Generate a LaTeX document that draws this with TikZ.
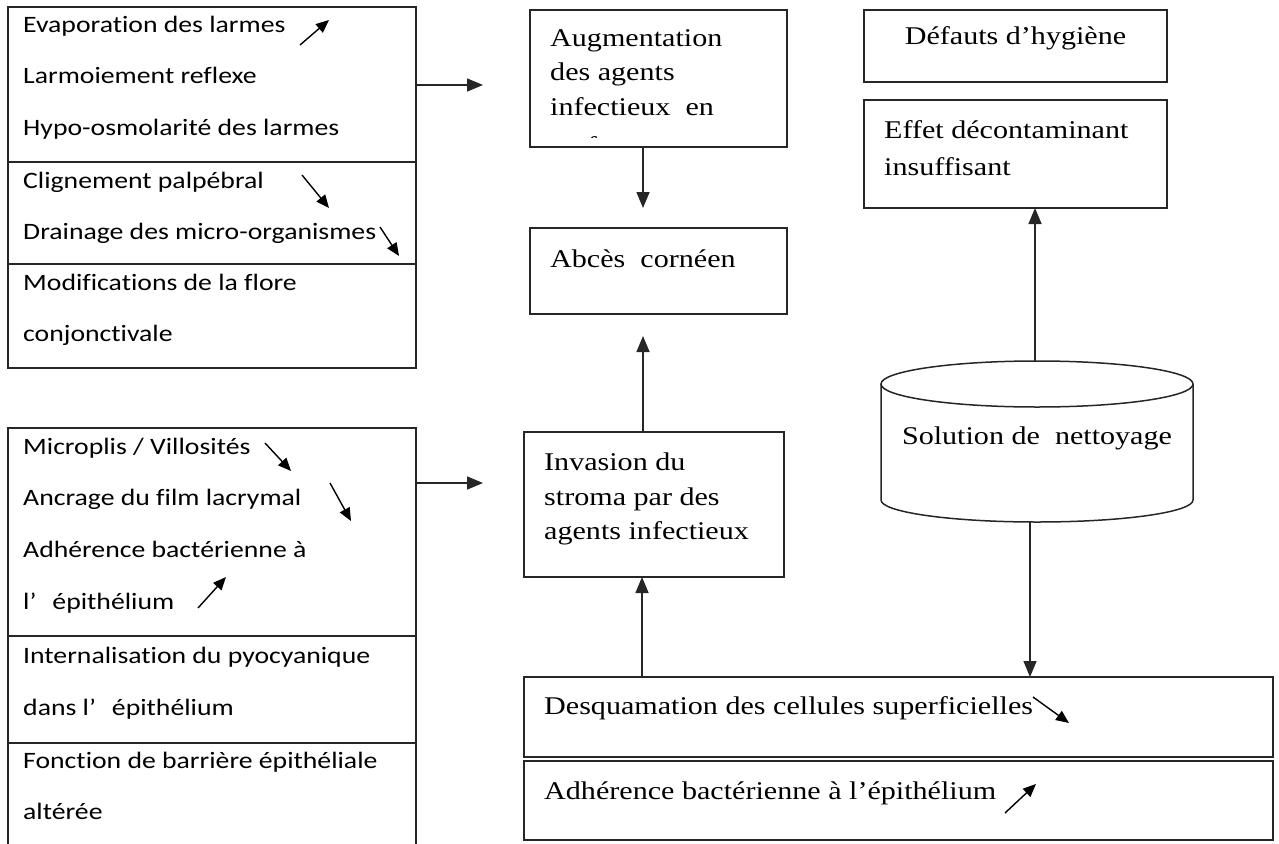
\documentclass[tikz,border=0pt]{standalone}
\usepackage{fontspec}
\usetikzlibrary{arrows.meta,calc}
\newfontfamily\calib[FakeStretch=1.18,Ligatures=NoCommon]{Carlito}
\newfontfamily\tms[FakeStretch=1.18,Ligatures=NoCommon]{Liberation Serif}

\begin{document}
\begin{tikzpicture}[x=1pt,y=-1pt,
  box/.style={draw=black!85, line width=1.5pt, inner sep=0pt, outer sep=0pt, anchor=north west},
  rule/.style={draw=black!85, line width=1.5pt},
  lt/.style={anchor=base west, inner sep=0pt, font=\calib\fontsize{23.5}{28}\selectfont},
  st/.style={anchor=base west, inner sep=0pt, font=\tms\fontsize{25.5}{30}\selectfont},
  flow/.style={draw=black!85, line width=1.5pt, -{Triangle[length=16pt,width=13pt]}},
  trend/.style={draw=black, line width=1.4pt, -{Triangle[length=13pt,width=11pt]}},
]
\useasboundingbox (0,0) rectangle (1279,843);

% ---------- left column: tear film and epithelium ----------
\node[box, minimum width=408, minimum height=361] (tl) at (8,7) {};
\draw[rule] (8,162) -- (416,162);
\draw[rule] (8,264) -- (416,264);
\node[lt] (t1) at (23,33)  {Evaporation des larmes};
\node[lt] (t2) at (23,84)  {Larmoiement reflexe};
\node[lt] (t3) at (23,135) {Hypo-osmolarité des larmes};
\node[lt] (t4) at (23,188) {Clignement palpébral};
\node[lt] (t5) at (23,239) {Drainage des micro-organismes};
\node[lt] (t6) at (23,290) {Modifications de la flore};
\node[lt] (t7) at (23,341) {conjonctivale};
\draw[trend] (300,45) -- (329,20);
\draw[trend] (302,175) -- (329,208);
\draw[trend] (380,227) -- (399,256);

\node[box, minimum width=408, minimum height=420] (bl) at (8,428) {};
\draw[rule] (8,636) -- (416,636);
\draw[rule] (8,743) -- (416,743);
\node[lt] (b1) at (23,454) {Microplis / Villosités};
\node[lt] (b2) at (23,505) {Ancrage du film lacrymal};
\node[lt] (b3) at (23,557) {Adhérence bactérienne à};
\node[lt] (b4) at (23,609) {l’\hspace{16pt}épithélium};
\node[lt] (b5) at (23,663) {Internalisation du pyocyanique};
\node[lt] (b6) at (23,715) {dans l’\hspace{16pt}épithélium};
\node[lt] (b7) at (23,768) {Fonction de barrière épithéliale};
\node[lt] (b8) at (23,819) {altérée};
\draw[trend] (265,443) -- (291,471);
\draw[trend] (330,483) -- (351,521);
\draw[trend] (198,608) -- (226,577);

% ---------- middle column ----------
\node[box, minimum width=257, minimum height=137] (aug) at (530,10) {};
\node[st] (a1) at (550,47)  {Augmentation};
\node[st] (a2) at (550,81)  {des agents};
\node[st] (a3) at (550,115) {infectieux\ \ en};
\begin{scope}
  \clip (530,10) rectangle (787,137);
  \node[st] (a4) at (550,154) {surface};
\end{scope}

\node[box, minimum width=257, minimum height=86] (abc) at (530,228) {};
\node[st] (abct) at (550,267) {Abcès\ \ cornéen};

\node[box, minimum width=260, minimum height=145] (inv) at (524,432) {};
\node[st] (i1) at (544,470) {Invasion du};
\node[st] (i2) at (544,505) {stroma par des};
\node[st] (i3) at (544,539) {agents infectieux};

\node[box, minimum width=749, minimum height=80] (desq) at (524,677) {};
\node[st] (dt) at (544,714) {Desquamation des cellules superficielles};
\draw[trend] (1033,697) -- (1069,723);

\node[box, minimum width=749, minimum height=79] (adh) at (524,761) {};
\node[st] (adt) at (544,799) {Adhérence bactérienne à l’épithélium};
\draw[trend] (1005,813) -- (1036,784);

% ---------- right column ----------
\node[box, minimum width=303, minimum height=72] (def) at (864,10) {};
\node[st, anchor=base] (deft) at (1015.5,45) {Défauts d’hygiène};

\node[box, minimum width=303, minimum height=108] (eff) at (864,100) {};
\node[st] (e1) at (884,138) {Effet décontaminant};
\node[st] (e2) at (884,175) {insuffisant};

% cleaning solution drum
\node[inner sep=0pt, outer sep=0pt, minimum width=312, minimum height=161] (cyl) at (1037,441.5) {};
\draw[rule] (1037,384) ellipse [x radius=156pt, y radius=23pt];
\draw[rule] (881,384) -- (881,500)
  arc[start angle=180, end angle=360, x radius=156pt, y radius=22pt] -- (1193,384);
\node[st, anchor=base] (cylt) at (1037,444) {Solution de\ \ nettoyage};

% ---------- connectors ----------
\coordinate (tlout) at (483,85);
\coordinate (blout) at (483,483);
\coordinate (colA) at (643,0);
\coordinate (colB) at (642,0);
\coordinate (upx) at (1035,0);
\coordinate (dnx) at (1030,0);

\draw[flow] (tl.east |- tlout) -- (tlout);
\draw[flow] (bl.east |- blout) -- (blout);
\draw[flow, shorten >=20pt] (aug.south -| colA) -- (abc.north -| colA);
\draw[flow, shorten >=22pt] (inv.north -| colA) -- (abc.south -| colA);
\draw[flow] (desq.north -| colB) -- (inv.south -| colB);
\draw[flow] (cyl.north -| upx) -- (eff.south -| upx);
\draw[flow] (cyl.south -| dnx) -- (desq.north -| dnx);
\end{tikzpicture}
\end{document}
